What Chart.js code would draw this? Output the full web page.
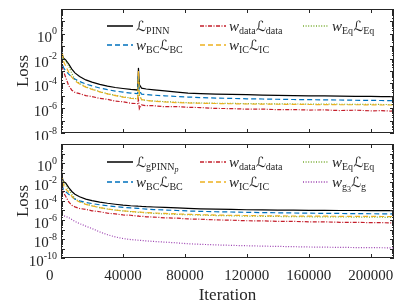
<!DOCTYPE html>
<html>
<head>
<meta charset="utf-8">
<script src="https://cdn.jsdelivr.net/npm/chart.js@4.4.1/dist/chart.umd.min.js"></script>
<style>
  body { margin: 0; width: 407px; height: 306px; background: #fff; position: relative; overflow: hidden;
         font-family: "Liberation Serif", "DejaVu Serif", serif; color: #262626; }
  canvas { position: absolute; left: 0; }
  #c1 { top: 0; }
  #c2 { top: 140px; }
  .item { position: absolute; white-space: nowrap; font-size: 15px; line-height: 18px; height: 18px; }
  .item svg { position: absolute; left: 0; top: 7px; }
  .item .t { position: absolute; left: 29px; top: 0; }
  .L { font-family: "DejaVu Serif", "DejaVu Sans", serif; font-size: 14px; }
  sub { font-size: 10px; vertical-align: -3px; line-height: 0; }
  sub sub { font-size: 8px; vertical-align: -2px; }
</style>
</head>
<body>
<canvas id="c1" width="407" height="140"></canvas>
<canvas id="c2" width="407" height="166"></canvas>
<div id="legends"></div>
<script>
const iterations = [0, 400, 1500, 3000, 5000, 7000, 9000, 12000, 16000, 20000,
  25000, 30000, 35000, 40000, 45000, 49500, 50000, 50600, 52000, 55000,
  60000, 67000, 75000, 82000, 90000, 100000, 110000, 120000, 130000, 140000,
  150000, 160000, 170000, 180000, 190000, 200000, 207000, 213000, 214600, 215000];

// log10(loss), top panel (PINN)
const topPinn = [0.8, -1.5, -1.95, -2.1, -2.45, -2.85, -3.15, -3.45, -3.72, -3.9,
  -4.08, -4.22, -4.33, -4.41, -4.48, -4.53, -2.75, -4.1, -4.38, -4.45,
  -4.52, -4.6, -4.7, -4.78, -4.82, -4.86, -4.88, -4.91, -4.94, -4.96,
  -4.98, -5.0, -5.01, -5.03, -5.04, -5.05, -5.06, -5.07, -5.07, -5.2];
const topData = [-1.3, -2.5, -3.0, -3.5, -4.2, -4.55, -4.72, -4.83, -4.99, -5.06,
  -5.21, -5.28, -5.43, -5.48, -5.6, -5.63, -5.3, -6.05, -5.74, -5.8,
  -5.8, -5.88, -5.87, -5.93, -5.95, -6.02, -6.03, -6.08, -6.07, -6.12,
  -6.11, -6.15, -6.14, -6.19, -6.16, -6.21, -6.2, -6.23, -6.22, -7.2];
const topEq = [0.3, -1.6, -2.0, -2.2, -2.6, -3.2, -3.7, -4.0, -4.28, -4.46,
  -4.66, -4.83, -4.96, -5.08, -5.18, -5.24, -3.2, -5.0, -5.32, -5.37,
  -5.42, -5.47, -5.52, -5.55, -5.58, -5.6, -5.61, -5.63, -5.64, -5.65,
  -5.66, -5.67, -5.67, -5.68, -5.69, -5.69, -5.7, -5.7, -5.7, -5.7];
const topBC = [0.0, -1.8, -2.7, -3.0, -3.25, -3.5, -3.65, -3.85, -4.05, -4.2,
  -4.37, -4.5, -4.62, -4.7, -4.78, -4.83, -3.3, -4.6, -4.86, -4.9,
  -4.95, -5.0, -5.06, -5.1, -5.14, -5.18, -5.21, -5.24, -5.26, -5.28,
  -5.3, -5.31, -5.33, -5.34, -5.36, -5.37, -5.38, -5.39, -5.39, -5.6];
const topIC = [1.0, -1.0, -2.2, -2.6, -3.1, -3.5, -3.8, -4.05, -4.3, -4.48,
  -4.68, -4.85, -4.98, -5.1, -5.2, -5.26, -3.0, -4.9, -5.3, -5.38,
  -5.44, -5.5, -5.55, -5.58, -5.6, -5.62, -5.64, -5.66, -5.67, -5.68,
  -5.69, -5.7, -5.71, -5.72, -5.72, -5.73, -5.74, -5.74, -5.74, -5.5];

// log10(loss), bottom panel (gPINN)
const botPinn = [1.2, -1.3, -1.95, -2.1, -2.6, -3.0, -3.28, -3.55, -3.8, -3.96,
  -4.12, -4.24, -4.34, -4.43, -4.5, -4.54, -4.55, -4.55, -4.57, -4.6,
  -4.63, -4.68, -4.73, -4.78, -4.82, -4.86, -4.89, -4.92, -4.94, -4.96,
  -4.97, -4.98, -4.99, -5.0, -5.0, -5.01, -5.02, -5.02, -5.02, -5.1];
const botData = [-0.8, -2.5, -3.1, -3.5, -4.1, -4.45, -4.62, -4.79, -4.88, -5.03,
  -5.13, -5.28, -5.36, -5.47, -5.5, -5.59, -5.57, -5.61, -5.6, -5.67,
  -5.69, -5.77, -5.81, -5.89, -5.92, -5.99, -6.02, -6.08, -6.09, -6.14,
  -6.15, -6.19, -6.2, -6.24, -6.24, -6.28, -6.28, -6.31, -6.3, -6.9];
const botEq = [0.5, -1.5, -2.0, -2.3, -2.8, -3.3, -3.75, -4.05, -4.32, -4.5,
  -4.69, -4.84, -4.96, -5.05, -5.12, -5.18, -5.19, -5.19, -5.21, -5.25,
  -5.3, -5.36, -5.41, -5.45, -5.49, -5.53, -5.56, -5.59, -5.61, -5.63,
  -5.65, -5.66, -5.67, -5.68, -5.69, -5.7, -5.71, -5.72, -5.72, -5.72];
const botBC = [0.2, -2.0, -2.8, -3.0, -3.3, -3.55, -3.8, -3.98, -4.15, -4.27,
  -4.4, -4.5, -4.6, -4.67, -4.73, -4.78, -4.78, -4.79, -4.81, -4.85,
  -4.9, -4.95, -5.0, -5.05, -5.09, -5.13, -5.16, -5.19, -5.22, -5.24,
  -5.26, -5.28, -5.3, -5.31, -5.33, -5.34, -5.35, -5.36, -5.36, -5.3];
const botIC = [1.4, -1.0, -2.3, -2.7, -3.1, -3.5, -3.85, -4.1, -4.35, -4.52,
  -4.7, -4.84, -4.95, -5.03, -5.1, -5.15, -5.16, -5.16, -5.18, -5.21,
  -5.26, -5.31, -5.36, -5.4, -5.44, -5.48, -5.51, -5.53, -5.55, -5.57,
  -5.58, -5.59, -5.6, -5.61, -5.62, -5.62, -5.63, -5.63, -5.63, -5.4];
const botG = [-5.2, -5.45, -5.55, -5.62, -5.75, -5.95, -6.15, -6.38, -6.65, -6.9,
  -7.25, -7.55, -7.78, -7.95, -8.06, -8.12, -8.13, -8.13, -8.16, -8.2,
  -8.26, -8.33, -8.41, -8.5, -8.56, -8.62, -8.67, -8.71, -8.75, -8.78,
  -8.81, -8.84, -8.86, -8.88, -8.9, -8.91, -8.92, -8.93, -8.93, -8.6];

const xTicks = [0, 40000, 80000, 120000, 160000, 200000];
const xMax = 215000;

const BLACK = '#000000', RED = '#c41e2a', GREEN = '#77ac30', BLUE = '#0072bd', YELLOW = '#edb120', PURPLE = '#9b3fb0';
const SOLID = [], DASH = [5, 3], DASHDOT = [4, 1.5, 1, 1.5], DOT = [1, 1.6];

function series(vals) {
  return iterations.map((it, i) => ({ x: it, y: Math.pow(10, vals[i]) }));
}

const axesPlugin = {
  id: 'matlabAxes',
  afterDatasetsDraw(chart) {
    const { ctx, chartArea: a, scales: { x, y } } = chart;
    ctx.save();
    ctx.strokeStyle = '#262626';
    ctx.lineWidth = 1;
    ctx.beginPath();
    xTicks.forEach(v => {
      const px = Math.round(x.getPixelForValue(v)) + 0.5;
      ctx.moveTo(px, a.bottom); ctx.lineTo(px, a.bottom - 4);
      ctx.moveTo(px, a.top); ctx.lineTo(px, a.top + 4);
    });
    const k0 = Math.round(Math.log10(y.min)), k1 = Math.round(Math.log10(y.max));
    for (let k = k0; k <= k1; k++) {
      const py = Math.round(y.getPixelForValue(Math.pow(10, k))) + 0.5;
      ctx.moveTo(a.left, py); ctx.lineTo(a.left + 4, py);
      ctx.moveTo(a.right, py); ctx.lineTo(a.right - 4, py);
      if (k < k1) {
        for (let m = 2; m <= 9; m++) {
          const pm = Math.round(y.getPixelForValue(m * Math.pow(10, k))) + 0.5;
          ctx.moveTo(a.left, pm); ctx.lineTo(a.left + 2, pm);
          ctx.moveTo(a.right, pm); ctx.lineTo(a.right - 2, pm);
        }
      }
    }
    ctx.stroke();
    ctx.strokeRect(a.left + 0.5, a.top + 0.5, a.right - a.left - 1, a.bottom - a.top - 1);

    // y tick labels 10^k
    ctx.fillStyle = '#262626';
    ctx.textBaseline = 'middle';
    for (let k = k0; k <= k1; k++) {
      if (k % 2 !== 0 || k === k1) continue;
      const py = y.getPixelForValue(Math.pow(10, k));
      const sup = String(k);
      ctx.font = '10px "Liberation Serif"';
      const sw = ctx.measureText(sup).width;
      const xr = 57;
      ctx.textAlign = 'left';
      ctx.fillText(sup, xr - sw, py - 2);
      ctx.font = '15px "Liberation Serif"';
      ctx.textAlign = 'right';
      ctx.fillText('10', xr - sw, py + 4);
    }
    ctx.restore();
  }
};

function makeChart(id, specs, yMin, yMax, bottom) {
  // draw in plotting order: later series on top
  const datasets = specs.slice().reverse().map(s => ({
    label: s.label,
    data: series(s.vals),
    borderColor: s.color,
    borderDash: s.dash,
    borderWidth: 1.2,
    pointRadius: 0,
    fill: false,
    tension: 0
  }));
  return new Chart(document.getElementById(id), {
    type: 'line',
    data: { datasets },
    plugins: [axesPlugin],
    options: {
      responsive: false,
      animation: false,
      devicePixelRatio: 1,
      layout: { padding: bottom ? { left: 0, right: 13, top: 4, bottom: 0 } : { left: 0, right: 13, top: 9, bottom: 7 } },
      plugins: { legend: { display: false }, tooltip: { enabled: false } },
      scales: {
        x: {
          type: 'linear', min: 0, max: xMax,
          display: bottom,
          grid: { display: false, drawTicks: false },
          border: { display: false },
          afterBuildTicks: s => { s.ticks = xTicks.map(v => ({ value: v })); },
          afterFit: s => { s.height = bottom ? 48 : 0; },
          ticks: { display: bottom, color: '#262626', padding: 9, maxRotation: 0, autoSkip: false,
                   font: { family: 'Liberation Serif', size: 15 },
                   // the "0" label sits left of the axis corner in the original
                   callback: v => v === 0 ? '0      ' : String(v) },
          title: { display: bottom, text: 'Iteration', color: '#262626', padding: { top: 0, bottom: 0 },
                   font: { family: 'Liberation Serif', size: 17 } }
        },
        y: {
          type: 'logarithmic', min: yMin, max: yMax,
          grid: { display: false, drawTicks: false },
          border: { display: false },
          ticks: { display: false },
          afterFit: s => { s.width = 61; },
          title: { display: true, text: 'Loss', color: '#262626', padding: { top: 13, bottom: 0 },
                   font: { family: 'Liberation Serif', size: 17 } }
        }
      }
    }
  });
}

makeChart('c1', [
  { label: 'PINN', vals: topPinn, color: BLACK, dash: SOLID },
  { label: 'data', vals: topData, color: RED, dash: DASHDOT },
  { label: 'Eq', vals: topEq, color: GREEN, dash: DOT },
  { label: 'BC', vals: topBC, color: BLUE, dash: DASH },
  { label: 'IC', vals: topIC, color: YELLOW, dash: DASH }
], 1e-8, 1e2, false);

makeChart('c2', [
  { label: 'gPINN', vals: botPinn, color: BLACK, dash: SOLID },
  { label: 'data', vals: botData, color: RED, dash: DASHDOT },
  { label: 'Eq', vals: botEq, color: GREEN, dash: DOT },
  { label: 'BC', vals: botBC, color: BLUE, dash: DASH },
  { label: 'IC', vals: botIC, color: YELLOW, dash: DASH },
  { label: 'g', vals: botG, color: PURPLE, dash: DOT }
], 1e-10, 1e2, true);

// legends (math text needs sub/superscripts, so HTML)
const L = '<span class="L">ℒ</span>';
const W = '<i>w</i>';
function legendItem(x, y, color, dash, html) {
  const d = document.createElement('div');
  d.className = 'item';
  d.style.left = x + 'px';
  d.style.top = (y - 9) + 'px';
  d.innerHTML = '<svg width="26" height="4"><line x1="0" y1="2" x2="26" y2="2" stroke="' + color +
    '" stroke-width="1.5" stroke-dasharray="' + (dash.length ? dash.join(',') : 'none') + '"/></svg>' +
    '<span class="t">' + html + '</span>';
  document.getElementById('legends').appendChild(d);
}
const col = [107, 200, 303];
legendItem(col[0], 26, BLACK, SOLID, L + '<sub>PINN</sub>');
legendItem(col[1], 26, RED, DASHDOT, W + '<sub>data</sub>' + L + '<sub>data</sub>');
legendItem(col[2], 26, GREEN, DOT, W + '<sub>Eq</sub>' + L + '<sub>Eq</sub>');
legendItem(col[0], 45, BLUE, DASH, W + '<sub>BC</sub>' + L + '<sub>BC</sub>');
legendItem(col[1], 45, YELLOW, DASH, W + '<sub>IC</sub>' + L + '<sub>IC</sub>');

legendItem(col[0], 162, BLACK, SOLID, L + '<sub>gPINN<sub><i>p</i></sub></sub>');
legendItem(col[1], 162, RED, DASHDOT, W + '<sub>data</sub>' + L + '<sub>data</sub>');
legendItem(col[2], 162, GREEN, DOT, W + '<sub>Eq</sub>' + L + '<sub>Eq</sub>');
legendItem(col[0], 182, BLUE, DASH, W + '<sub>BC</sub>' + L + '<sub>BC</sub>');
legendItem(col[1], 182, YELLOW, DASH, W + '<sub>IC</sub>' + L + '<sub>IC</sub>');
legendItem(col[2], 182, PURPLE, DOT, W + '<sub>g<sub>3</sub></sub>' + L + '<sub>g</sub>');
</script>
</body>
</html>
